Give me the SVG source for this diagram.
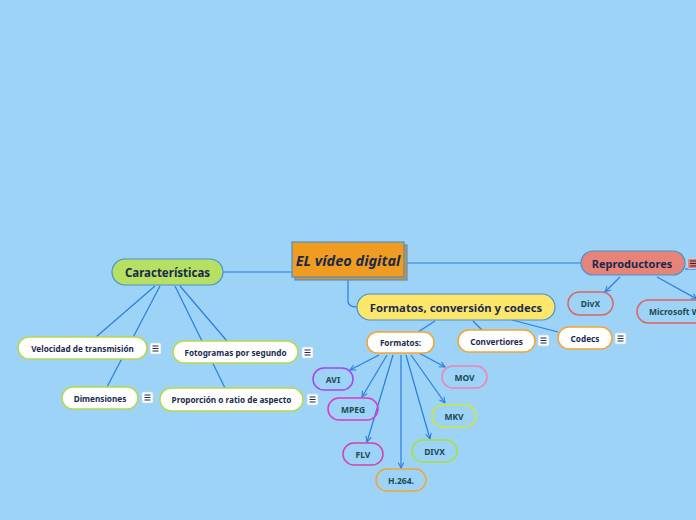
<svg xmlns="http://www.w3.org/2000/svg" width="696" height="520" viewBox="0 0 696 520">
<defs>
<style>
.bg{fill:#9cd3f7}
.ln{fill:none;stroke:#2b7de0;stroke-width:1.2}
.t{font-family:"Noto Sans","Open Sans","DejaVu Sans",sans-serif;font-weight:bold;text-anchor:middle;dominant-baseline:central;fill:#1b2a4d}
.lt{font-family:"Noto Sans","Open Sans","DejaVu Sans",sans-serif;font-weight:bold;text-anchor:middle;dominant-baseline:central;fill:#1e4a50;font-size:8.5px}
.sub{fill:#fff;stroke:#b8d848;stroke-width:1.5}
.org{fill:#fff;stroke:#f2a534;stroke-width:1.5}
.leaf{fill:none;stroke-width:1.5}
.mi rect{fill:#fff;stroke:#c9d6e4;stroke-width:0.8}
.mi path{stroke:#1b2a4d;stroke-width:1.2}
</style>
<marker id="ar" viewBox="0 0 10 10" refX="9" refY="5" markerWidth="7" markerHeight="7" orient="auto" markerUnits="userSpaceOnUse">
<path d="M1,1 L9,5 L1,9" fill="none" stroke="#2b7de0" stroke-width="1.5"/>
</marker>
<g id="menu" class="mi"><rect x="0" y="0" width="11" height="11" rx="1.5"/><path d="M2.5,3 H8.5 M2.5,5.5 H8.5 M2.5,8 H8.5"/></g>
</defs>
<rect class="bg" x="0" y="0" width="696" height="520"/>

<g id="connectors">
<path class="ln" d="M292,272 H223"/>
<path class="ln" d="M404,263 H581"/>
<path class="ln" d="M685,269 H696"/>
<path class="ln" d="M348,278 V301 Q348,307 357,307"/>
<path class="ln" d="M155,286 L96,337"/>
<path class="ln" d="M160,286 L107,387"/>
<path class="ln" d="M175,286 L225,388"/>
<path class="ln" d="M180,286 L227,341"/>
<path class="ln" d="M435,321 L418,332"/>
<path class="ln" d="M473,321 L483,331"/>
<path class="ln" d="M512,320 L558,332"/>
<path class="ln" d="M379,355 L350,370" marker-end="url(#ar)"/>
<path class="ln" d="M387,355 L362,397" marker-end="url(#ar)"/>
<path class="ln" d="M393,355 L367,442" marker-end="url(#ar)"/>
<path class="ln" d="M401,355 L401,468" marker-end="url(#ar)"/>
<path class="ln" d="M406,355 L430,439" marker-end="url(#ar)"/>
<path class="ln" d="M411,355 L445,403" marker-end="url(#ar)"/>
<path class="ln" d="M419,353 L445,367" marker-end="url(#ar)"/>
<path class="ln" d="M620,277 L605,292" marker-end="url(#ar)"/>
<path class="ln" d="M657,277 L697,299" marker-end="url(#ar)"/>
</g>

<g id="central">
<rect x="295" y="245" width="112" height="35" fill="#d88f2e" stroke="#5a90c6" stroke-width="1.2"/>
<rect x="292" y="242" width="112" height="35" fill="#f09c21" stroke="#4a90d0" stroke-width="1.2"/>
<text class="t" x="348" y="259.5" font-size="14.5" font-style="italic" fill="#1b2a4d">EL vídeo digital</text>
</g>

<g id="caracteristicas">
<rect x="112" y="259" width="111" height="26" rx="13" fill="#b5e061" stroke="#4a90d0" stroke-width="1.2"/>
<text class="t" x="167.5" y="272" font-size="11.5">Características</text>
</g>

<g id="velocidad">
<rect class="sub" x="18" y="337" width="129" height="22" rx="11"/>
<text class="t" x="82.5" y="348" font-size="8.2">Velocidad de transmisión</text>
<use href="#menu" x="150" y="343"/>
</g>

<g id="dimensiones">
<rect class="sub" x="62" y="387" width="76" height="22" rx="11"/>
<text class="t" x="100" y="398" font-size="8.2">Dimensiones</text>
<use href="#menu" x="142" y="392"/>
</g>

<g id="fotogramas">
<rect class="sub" x="173" y="341" width="125" height="22" rx="11"/>
<text class="t" x="235.5" y="352" font-size="8.2">Fotogramas por segundo</text>
<use href="#menu" x="302" y="347"/>
</g>

<g id="proporcion">
<rect class="sub" x="160" y="388" width="143" height="23" rx="11.5"/>
<text class="t" x="231.5" y="399.5" font-size="8.2">Proporción o ratio de aspecto</text>
<use href="#menu" x="307" y="394"/>
</g>

<g id="formatos-conv">
<rect x="357" y="294" width="198" height="26" rx="13" fill="#fde76a" stroke="#4a90d0" stroke-width="1.2"/>
<text class="t" x="456" y="307" font-size="11.3">Formatos, conversión y codecs</text>
</g>

<g id="formatos">
<rect class="org" x="367" y="332" width="67" height="21" rx="10.5"/>
<text class="t" x="400.5" y="342.5" font-size="8.2">Formatos:</text>
</g>

<g id="convertiores">
<rect class="org" x="458" y="330" width="77" height="22" rx="11"/>
<text class="t" x="496.5" y="341" font-size="8.2">Convertiores</text>
<use href="#menu" x="538" y="335"/>
</g>

<g id="codecs">
<rect class="org" x="558" y="327" width="54" height="22" rx="11"/>
<text class="t" x="585" y="338" font-size="8.2">Codecs</text>
<use href="#menu" x="615" y="333"/>
</g>

<g id="avi">
<rect class="leaf" stroke="#a544f0" x="313" y="368" width="40" height="22" rx="11"/>
<text class="lt" x="333" y="379">AVI</text>
</g>
<g id="mpeg">
<rect class="leaf" stroke="#e236c6" x="328" y="398" width="50" height="22" rx="11"/>
<text class="lt" x="353" y="409">MPEG</text>
</g>
<g id="flv">
<rect class="leaf" stroke="#d444a6" x="343" y="443" width="40" height="22" rx="11"/>
<text class="lt" x="363" y="454">FLV</text>
</g>
<g id="h264">
<rect class="leaf" stroke="#f2a534" x="376" y="469" width="50" height="22" rx="11"/>
<text class="lt" x="401" y="480">H.264.</text>
</g>
<g id="divx2">
<rect class="leaf" stroke="#a8e038" x="412" y="440" width="45" height="22" rx="11"/>
<text class="lt" x="434.5" y="451">DIVX</text>
</g>
<g id="mkv">
<rect class="leaf" stroke="#cce836" x="432" y="405" width="44" height="22" rx="11"/>
<text class="lt" x="454" y="416">MKV</text>
</g>
<g id="mov">
<rect class="leaf" stroke="#f182b2" x="442" y="366" width="45" height="22" rx="11"/>
<text class="lt" x="464.5" y="377">MOV</text>
</g>

<g id="reproductores">
<rect x="581" y="251" width="104" height="24" rx="12" fill="#e8837a" stroke="#4a90d0" stroke-width="1.2"/>
<text class="t" x="632" y="263" font-size="11">Reproductores</text>
<rect x="687.5" y="258.5" width="11" height="10" rx="1.5" fill="#e8837a" stroke="#c9d6e4" stroke-width="0.8"/>
<path d="M690,261 H697 M690,263.5 H697 M690,266 H697" stroke="#1b2a4d" stroke-width="1.2"/>
</g>

<g id="divx">
<rect class="leaf" stroke="#e06262" x="568" y="292" width="45" height="23" rx="11.5"/>
<text class="lt" x="590.5" y="303.5">DivX</text>
</g>
<g id="microsoft">
<rect class="leaf" stroke="#e06262" x="637" y="300" width="100" height="23" rx="11.5"/>
<text class="lt" x="649" y="311.5" style="text-anchor:start">Microsoft W</text>
</g>
</svg>
